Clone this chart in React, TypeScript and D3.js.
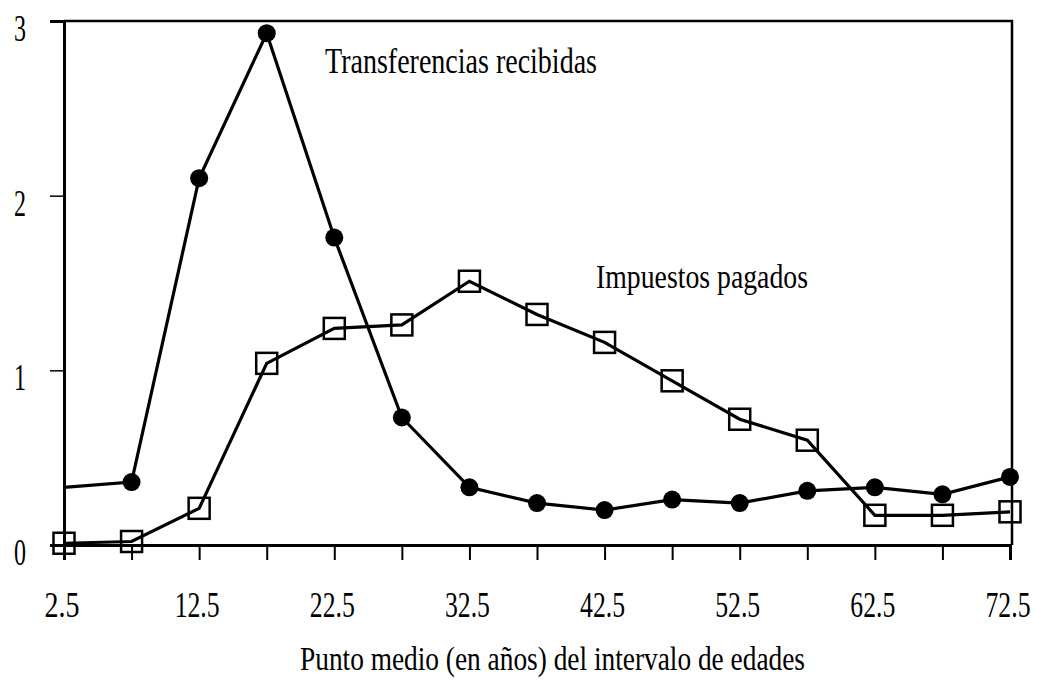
import React, { useEffect, useRef } from "react";
import * as d3 from "d3";

const ages = [2.5, 7.5, 12.5, 17.5, 22.5, 27.5, 32.5, 37.5, 42.5, 47.5, 52.5, 57.5, 62.5, 67.5, 72.5];
const transferencias = [0.33, 0.36, 2.1, 2.93, 1.76, 0.73, 0.33, 0.24, 0.2, 0.26, 0.24, 0.31, 0.33, 0.29, 0.39];
const impuestos = [0.01, 0.02, 0.21, 1.04, 1.24, 1.26, 1.51, 1.32, 1.16, 0.94, 0.72, 0.6, 0.17, 0.17, 0.19];
const xTicks = [2.5, 12.5, 22.5, 32.5, 42.5, 52.5, 62.5, 72.5];
const yTicks = [0, 1, 2, 3];

const W = 1038;
const H = 691;
const font = "'Liberation Serif', 'DejaVu Serif', serif";

const App = () => {
  const svgRef = useRef<SVGSVGElement>(null);

  useEffect(() => {
    const svg = d3.select(svgRef.current);
    svg.selectAll("*").remove();

    const x = d3.scaleLinear().domain([2.5, 72.5]).range([64, 1010]);
    const y = d3.scaleLinear().domain([0, 3]).range([545, 21]);

    // frame (top + right)
    svg.append("path")
      .attr("d", `M${x(2.5)},${y(3)}H1012V${y(0)}`)
      .attr("fill", "none")
      .attr("stroke", "#000")
      .attr("stroke-width", 2.5);

    // y axis
    const yAxis = svg.append("g")
      .attr("transform", `translate(${x(2.5)},0)`)
      .call(d3.axisLeft(y).tickValues(yTicks).tickSize(14).tickFormat(() => ""));
    yAxis.select(".domain").attr("stroke-width", 3);
    yAxis.selectAll(".tick line").attr("stroke-width", 1.5);

    // x axis: ticks every 5 years, labels every 10
    const xAxis = svg.append("g")
      .attr("transform", `translate(0,${y(0)})`)
      .call(d3.axisBottom(x).tickValues(ages).tickSize(15).tickFormat(() => ""));
    xAxis.select(".domain").attr("stroke-width", 3);
    xAxis.selectAll(".tick line").attr("stroke-width", 2);

    svg.append("g")
      .selectAll("text")
      .data(xTicks)
      .enter()
      .append("text")
      .attr("x", (d) => x(d) - 2)
      .attr("y", 617)
      .attr("text-anchor", "middle")
      .attr("font-family", font)
      .attr("font-size", 36)
      .attr("textLength", (d) => (d < 10 ? 35 : 45))
      .attr("lengthAdjust", "spacingAndGlyphs")
      .text((d) => d);

    svg.append("g")
      .selectAll("text")
      .data(yTicks)
      .enter()
      .append("text")
      .attr("x", 20)
      .attr("y", (d) => y(d) + 20)
      .attr("text-anchor", "middle")
      .attr("font-family", font)
      .attr("font-size", 38)
      .attr("textLength", 12)
      .attr("lengthAdjust", "spacingAndGlyphs")
      .text((d) => d);

    const line = d3.line<number>()
      .x((_, i) => x(ages[i]))
      .y((d) => y(d));

    svg.append("path")
      .datum(transferencias)
      .attr("d", line)
      .attr("fill", "none")
      .attr("stroke", "#000")
      .attr("stroke-width", 3.2);

    svg.append("path")
      .datum(impuestos)
      .attr("d", line)
      .attr("fill", "none")
      .attr("stroke", "#000")
      .attr("stroke-width", 3.2);

    // filled circles (first point has no marker)
    svg.append("g")
      .selectAll("circle")
      .data(transferencias.slice(1))
      .enter()
      .append("circle")
      .attr("cx", (_, i) => x(ages[i + 1]))
      .attr("cy", (d) => y(d))
      .attr("r", 9)
      .attr("fill", "#000");

    // open squares
    const s = 21;
    svg.append("g")
      .selectAll("rect")
      .data(impuestos)
      .enter()
      .append("rect")
      .attr("x", (_, i) => x(ages[i]) - s / 2)
      .attr("y", (d) => y(d) - s / 2)
      .attr("width", s)
      .attr("height", s)
      .attr("fill", "none")
      .attr("stroke", "#000")
      .attr("stroke-width", 2.5);

    svg.append("text")
      .attr("x", 325)
      .attr("y", 73)
      .attr("font-family", font)
      .attr("font-size", 36)
      .attr("textLength", 272)
      .attr("lengthAdjust", "spacingAndGlyphs")
      .text("Transferencias recibidas");

    svg.append("text")
      .attr("x", 596)
      .attr("y", 288)
      .attr("font-family", font)
      .attr("font-size", 34)
      .attr("textLength", 212)
      .attr("lengthAdjust", "spacingAndGlyphs")
      .text("Impuestos pagados");

    svg.append("text")
      .attr("x", 300)
      .attr("y", 670)
      .attr("font-family", font)
      .attr("font-size", 34)
      .attr("textLength", 505)
      .attr("lengthAdjust", "spacingAndGlyphs")
      .text("Punto medio (en años) del intervalo de edades");
  }, []);

  return (
    <svg
      ref={svgRef}
      width={W}
      height={H}
      style={{ position: "absolute", left: 0, top: 0, background: "#fff" }}
    ></svg>
  );
};

export default App;
